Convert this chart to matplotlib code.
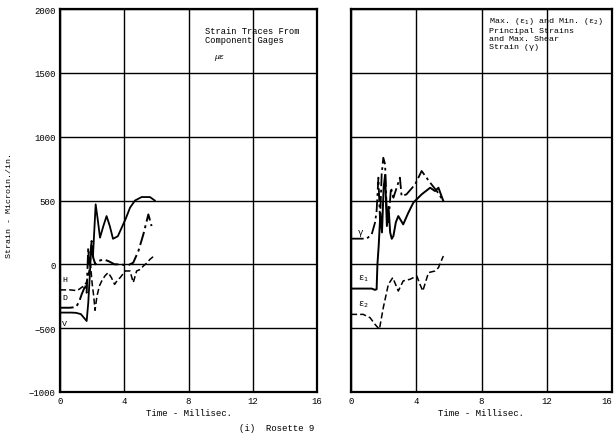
import matplotlib
matplotlib.use("Agg")
import matplotlib.pyplot as plt

# ---------------- data ----------------
x_ticks = [0, 4, 8, 12, 16]
y_ticks = [-1000, -500, 0, 500, 1000, 1500, 2000]

# Left panel: component gages
h_t = [0, 0.6, 1.0, 1.2, 1.35, 1.5, 1.65, 1.8, 1.9, 2.0, 2.1, 2.18, 2.3, 2.45, 2.6, 2.8,
       3.0, 3.2, 3.4, 3.6, 3.75, 4.05, 4.36, 4.56, 4.77, 5.0, 5.19, 5.4, 5.6, 5.85]
h_s = [-200, -200, -205, -195, -180, -170, -140, -60, 0, -150, -250, -360, -250, -170, -130, -90,
       -65, -104, -157, -120, -104, -52, -52, -143, -52, -40, -13, 10, 39, 65]

d_t = [0, 0.6, 1.0, 1.2, 1.35, 1.5, 1.56, 1.66, 1.76, 1.82, 1.87, 1.97, 2.07, 2.2, 2.4, 2.7,
       3.0, 3.4, 3.84, 4.15, 4.56, 4.88, 5.19, 5.5, 5.7]
d_s = [-340, -340, -335, -290, -235, -190, -157, -222, 130, 0, 26, 183, 52, 0, 26, 39,
       26, 0, 0, -13, 13, 104, 235, 391, 300]

v_t = [0, 0.7, 1.0, 1.3, 1.5, 1.66, 1.76, 1.85, 1.95, 2.05, 2.15, 2.22, 2.35, 2.49, 2.7, 2.9,
       3.1, 3.3, 3.6, 3.84, 4.1, 4.36, 4.67, 5.08, 5.6, 5.9]
v_s = [-378, -378, -380, -390, -420, -444, -300, -100, 150, 60, 300, 470, 350, 209, 300, 378,
       300, 200, 220, 287, 360, 444, 500, 527, 527, 500]

# Right panel: principal strains and max shear
g_t = [0, 0.96, 1.27, 1.47, 1.57, 1.68, 1.78, 1.88, 1.98, 2.09, 2.19, 2.3, 2.45, 2.6, 2.8,
       3.0, 3.1, 3.4, 3.93, 4.33, 4.85, 5.26, 5.66]
g_s = [201, 201, 235, 326, 418, 679, 339, 705, 835, 783, 418, 330, 600, 522, 600,
       679, 535, 548, 626, 731, 640, 574, 496]

e1_t = [0, 1.27, 1.47, 1.57, 1.62, 1.7, 1.8, 1.9, 2.0, 2.09, 2.2, 2.3, 2.4, 2.5, 2.6, 2.75,
        2.9, 3.2, 3.5, 3.82, 4.33, 4.85, 5.15, 5.36, 5.66]
e1_s = [-190, -190, -200, -195, 0, 150, 400, 250, 600, 700, 300, 450, 250, 200, 222, 330,
        378, 313, 400, 483, 548, 600, 574, 600, 496]

e2_t = [0, 0.75, 1.17, 1.47, 1.74, 1.98, 2.29, 2.56, 2.9, 3.2, 3.62, 4.03, 4.23, 4.4, 4.75,
        5.15, 5.36, 5.66]
e2_s = [-392, -392, -418, -470, -509, -339, -157, -104, -209, -130, -117, -91, -157, -209, -65,
        -52, -26, 65]

# ---------------- figure ----------------
FONT = ["Liberation Mono", "DejaVu Sans Mono"]
plt.rcParams["font.family"] = FONT
plt.rcParams["mathtext.fontset"] = "dejavusans"

fig = plt.figure(figsize=(6.14, 4.39), dpi=100)
W, H = 614, 439
def rect(x0, x1, y0, y1):
    return [x0 / W, 1 - y1 / H, (x1 - x0) / W, (y1 - y0) / H]

axL = fig.add_axes(rect(60, 317, 10, 393))
axR = fig.add_axes(rect(351, 612, 10, 393))

for ax in (axL, axR):
    ax.set_xlim(0, 16)
    ax.set_ylim(-1000, 2000)
    ax.set_xticks(x_ticks)
    ax.set_yticks(y_ticks)
    ax.grid(True, color="black", linewidth=1.0)
    ax.tick_params(length=0, labelsize=6.5, pad=3)
    for sp in ax.spines.values():
        sp.set_linewidth(1.6)
        sp.set_color("black")
    ax.set_xlabel("Time - Millisec.", fontsize=6.5, labelpad=2)

axR.set_yticklabels([])
# keep the last "16" label inside the figure
axR.get_xticklabels()[-1].set_horizontalalignment("right")
axR.get_xticklabels()[-1].set_x(16)
axL.set_ylabel("Strain - Microin./in.", fontsize=6)
axL.yaxis.set_label_coords(-47 / 257, 0.49)

# left curves
axL.plot(h_t, h_s, color="black", lw=1.1, ls=(0, (4, 2)))
axL.plot(d_t, d_s, color="black", lw=1.4, ls=(0, (7, 2, 1.5, 2)))
axL.plot(v_t, v_s, color="black", lw=1.3, ls="-")
axL.text(0.12, -117, "H", fontsize=6, va="center", ha="left")
axL.text(0.12, -258, "D", fontsize=6, va="center", ha="left")
axL.text(0.12, -462, "V", fontsize=6, va="center", ha="left")
axL.text(9.0, 1870, "Strain Traces From\nComponent Gages", fontsize=6.3,
         va="top", ha="left", linespacing=1.1)
axL.text(9.6, 1630, "με", fontsize=6, style="italic", va="center", ha="left")

# right curves
axR.plot(g_t, g_s, color="black", lw=1.3, ls=(0, (7, 2, 1.5, 2)))
axR.plot(e1_t, e1_s, color="black", lw=1.4, ls="-")
axR.plot(e2_t, e2_s, color="black", lw=1.1, ls=(0, (4, 2)))
axR.text(0.4, 258, "γ", fontsize=6.5, va="center", ha="left")
axR.text(0.4, -102, "ε$_1$", fontsize=6.5, va="center", ha="left")
axR.text(0.4, -305, "ε$_2$", fontsize=6.5, va="center", ha="left")
axR.text(8.45, 1950, "Max. (ε$_1$) and Min. (ε$_2$)\nPrincipal Strains\nand Max. Shear\nStrain (γ)",
         fontsize=6, va="top", ha="left", linespacing=1.15, clip_on=False)

fig.text(277 / W, 1 - 429 / H, "(i)  Rosette 9", fontsize=6.5, ha="center", va="center")

fig.savefig("out.png", dpi=100, facecolor="white")
